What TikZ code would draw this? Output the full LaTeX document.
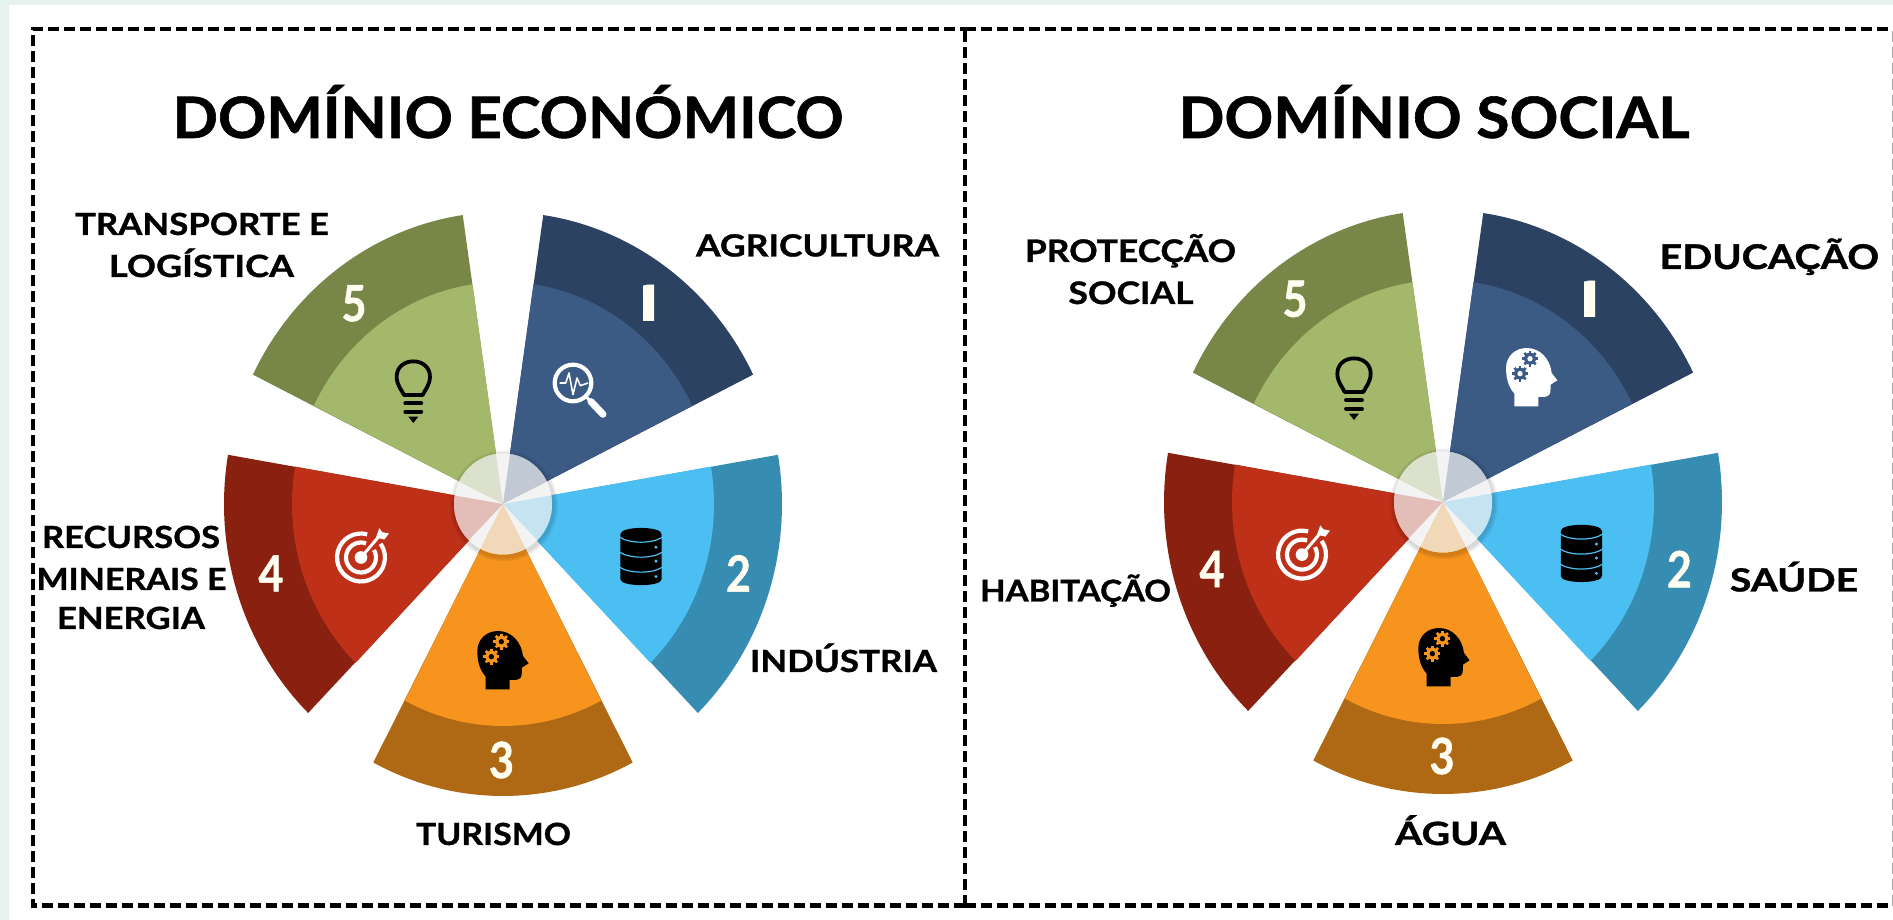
\documentclass[tikz,border=0pt]{standalone}
\usepackage{fontspec}
\setmainfont{Lato}[BoldFeatures={FakeBold=1}]
\definecolor{edge}{HTML}{E6F2EC}
\definecolor{aDark}{HTML}{2C4263}\definecolor{aLight}{HTML}{3B5B85}
\definecolor{bDark}{HTML}{378CB2}\definecolor{bLight}{HTML}{4BBFF2}
\definecolor{cDark}{HTML}{AF6915}\definecolor{cLight}{HTML}{F7941E}
\definecolor{dDark}{HTML}{8A2110}\definecolor{dLight}{HTML}{BF3018}
\definecolor{eDark}{HTML}{788748}\definecolor{eLight}{HTML}{A3B86B}
\newcommand\fitted[2]{\resizebox{#1pt}{\height}{#2}}
\newcommand\narrowed[2]{\scalebox{#1}[1]{#2}}
\newcommand\gearmark[4]{%
  \foreach \t in {0,45,...,315}{\draw[#3,line width=2.6pt,line cap=butt] ([shift={(#1,#2)}]\t:14) -- ([shift={(#1,#2)}]\t:24);}
  \fill[#3] (#1,#2) circle (18);
  \fill[#4] (#1,#2) circle (8);}
\tikzset{
  x=1pt,y=1pt,
  frameline/.style={draw=black,line width=4.6pt,dash pattern=on 11pt off 5pt},
  title/.style={font=\fontsize{57}{60}\selectfont\bfseries,inner sep=0pt,anchor=base,text=black},
  lab/.style={font=\fontsize{#1}{#1}\selectfont\bfseries,inner sep=0pt,anchor=base,text=black},
  lab/.default=30.5,
  digit/.style={font=\fontsize{50}{50}\selectfont\bfseries,inner sep=0pt,text=white!94!yellow},
  fan/.pic={
    \foreach \mid/\dk/\lt in {54/aDark/aLight,-18/bDark/bLight,-90/cDark/cLight,198/dDark/dLight,126/eDark/eLight}{
      \fill[\dk] (0,0) -- ({\mid-27.7}:279pt and 292pt)
        arc[start angle={\mid-27.7},end angle={\mid+27.7},x radius=279pt,y radius=292pt] -- cycle;
      \fill[\lt] (0,0) -- ({\mid-27.7}:211pt and 222pt)
        arc[start angle={\mid-27.7},end angle={\mid+27.7},x radius=211pt,y radius=222pt] -- cycle;
    }
    \foreach \w in {54,52.5,51}{\fill[black,opacity=.05] (1,-2) circle[x radius=\w pt,y radius=\w pt+1.5pt];}
    \fill[white] (0,0) circle[x radius=49pt,y radius=50.5pt];
    \foreach \mid/\dk/\lt in {54/aDark/aLight,-18/bDark/bLight,-90/cDark/cLight,198/dDark/dLight,126/eDark/eLight}{
      \fill[\lt] (0,0) -- ({\mid-27.7}:49pt and 50.5pt)
        arc[start angle={\mid-27.7},end angle={\mid+27.7},x radius=49pt,y radius=50.5pt] -- cycle;
    }
    \fill[gray!12,opacity=.74] (0,0) circle[x radius=49pt,y radius=50.5pt];
  },
  pics/headicon/.style 2 args={code={
    \begin{scope}[x=.333pt,y=-.333pt]
    \fill[#1] (-52,88) -- (-52,50) .. controls (-70,30) and (-77,5) .. (-77,-27)
      .. controls (-77,-62) and (-50,-87) .. (-15,-87)
      .. controls (25,-87) and (55,-55) .. (60,-12) -- (77,10)
      .. controls (70,17) and (60,18) .. (57,23) -- (56,45)
      .. controls (55,55) and (45,60) .. (35,60) -- (20,60) -- (20,88) -- cycle;
    \gearmark{-5}{-55}{#2}{#1}
    \gearmark{-35}{-10}{#2}{#1}
    \end{scope}}},
  bulbicon/.pic={
    \begin{scope}[x=.333pt,y=-.333pt]
    \draw[black,line width=3.8pt,line join=round] (-28,15) .. controls (-35,0) and (-50,-15) .. (-50,-40)
      .. controls (-50,-68) and (-28,-86) .. (0,-86)
      .. controls (28,-86) and (50,-68) .. (50,-40)
      .. controls (50,-15) and (35,0) .. (28,15) -- cycle;
    \draw[black,line width=3.8pt,line cap=round] (-24,40) -- (24,40);
    \draw[black,line width=3.8pt,line cap=round] (-24,65) -- (24,65);
    \fill[black] (-15,80) -- (15,80) -- (0,99) -- cycle;
    \end{scope}},
  dataicon/.pic={
    \begin{scope}[x=.333pt,y=-.333pt]
    \fill[black] (-62,-67) .. controls (-62,-92) and (62,-92) .. (62,-67) -- (62,68)
      .. controls (62,92) and (-62,92) .. (-62,68) -- cycle;
    \foreach \v in {-58,-13,32}{
      \draw[bLight,line width=1.2pt] (-64,\v) .. controls (-35,\v+20) and (35,\v+20) .. (64,\v);
    }
    \foreach \v in {-28,14,60}{\fill[bLight] (45,\v) circle (5);}
    \end{scope}},
  targeticon/.pic={
    \begin{scope}[x=.333pt,y=.333pt]
    \draw[white,line width=4.2pt] (75:72) arc[start angle=75,end angle=395,radius=72];
    \draw[white,line width=4.2pt] (70:45) arc[start angle=70,end angle=390,radius=45];
    \fill[white] (0,0) circle (19);
    \draw[white,line width=3pt] (0,0) -- (58,68);
    \fill[white] (45,60) -- (55,88) -- (64,76) -- (84,72) -- (70,54) -- cycle;
    \end{scope}},
  lensicon/.pic={
    \begin{scope}[x=.333pt,y=-.333pt]
    \draw[white,line width=4.2pt] (0,0) circle (55);
    \draw[white,line width=1.6pt,line join=round] (-40,0) -- (-22,0) -- (-12,-30) -- (0,35) -- (12,-15) -- (22,8) -- (45,0);
    \draw[white,line width=3pt] (40,42) -- (54,56);
    \draw[white,line width=7pt,line cap=round] (54,56) -- (90,94);
    \end{scope}},
}
\begin{document}
\begin{tikzpicture}
\useasboundingbox (0,0) rectangle (1893,920);
\fill[edge] (0,0) rectangle (1893,920);
\fill[white] (9,0) rectangle (1893,915);

% frames
\draw[frameline] (965,14.3) -- (33,14.3) -- (33,891) -- (965,891);
\draw[frameline] (965,14.3) -- (965,891);
\draw[frameline] (965,891) -- (1893,891);
\draw[frameline] (965,14.3) -- (1893,14.3);
\draw[draw=gray!70,line width=1.6pt,dash pattern=on 11pt off 5pt] (1892.5,14.3) -- (1892.5,891);

% titles
\node[title] (titleA) at (508,782) {\fitted{671}{DOMÍNIO ECONÓMICO}};
\node[title] (titleB) at (1434,782) {\fitted{511}{DOMÍNIO SOCIAL}};

% left fan
\pic (fanA) at (503,416) {fan};
\pic at (573,537) {lensicon};
\pic at (641,363.5) {dataicon};
\pic at (503,260) {headicon={black}{cLight}};
\pic at (361,362.5) {targeticon};
\pic at (413.3,530) {bulbicon};

% right fan
\pic (fanB) at (1443,418) {fan};
\pic at (1531.7,543) {headicon={white}{aLight}};
\pic at (1581.4,366.6) {dataicon};
\pic at (1444,263) {headicon={black}{cLight}};
\pic at (1302,365.4) {targeticon};
\pic at (1354,533) {bulbicon};

% digits, left
\begin{scope}
  \clip (643,599) rectangle (654,635.5);
  \node[digit] (a1) at (648.5,617) {\narrowed{3.5}{1}};
\end{scope}
\node[digit] (a2) at (738.5,346.6) {\narrowed{.86}{2}};
\node[digit] (a3) at (501.5,160) {\narrowed{.86}{3}};
\node[digit] (a4) at (271,346.6) {\narrowed{.86}{4}};
\node[digit] (a5) at (354,616.6) {\narrowed{.86}{5}};
% digits, right
\begin{scope}
  \clip (1584,603) rectangle (1595,639.5);
  \node[digit] (b1) at (1589.5,621) {\narrowed{3.5}{1}};
\end{scope}
\node[digit] (b2) at (1679.4,351) {\narrowed{.86}{2}};
\node[digit] (b3) at (1442,164) {\narrowed{.86}{3}};
\node[digit] (b4) at (1212,351) {\narrowed{.86}{4}};
\node[digit] (b5) at (1295,621) {\narrowed{.86}{5}};

% labels, left
\node[lab] (l1) at (202,685) {\fitted{254}{TRANSPORTE E}};
\node[lab] (l2) at (201.5,643) {\fitted{185}{LOGÍSTICA}};
\node[lab] (l3) at (817.5,663.5) {\fitted{243}{AGRICULTURA}};
\node[lab] (l4) at (131,372) {\fitted{178}{RECURSOS}};
\node[lab] (l5) at (131.5,330) {\fitted{190}{MINERAIS E}};
\node[lab] (l6) at (131,291) {\fitted{148}{ENERGIA}};
\node[lab] (l7) at (843.5,248) {\fitted{187}{INDÚSTRIA}};
\node[lab] (l8) at (493.5,75) {\fitted{155}{TURISMO}};
% labels, right
\node[lab=31] (r1) at (1130.5,658) {\fitted{211}{PROTECÇÃO}};
\node[lab=31] (r2) at (1131,616) {\fitted{125}{SOCIAL}};
\node[lab=34] (r3) at (1769.3,651) {\fitted{219.5}{EDUCAÇÃO}};
\node[lab=32] (r4) at (1794,328.5) {\fitted{128}{SAÚDE}};
\node[lab=30] (r5) at (1075.5,318.5) {\fitted{190.7}{HABITAÇÃO}};
\node[lab=32] (r6) at (1450.5,75) {\fitted{111}{ÁGUA}};
\end{tikzpicture}
\end{document}
